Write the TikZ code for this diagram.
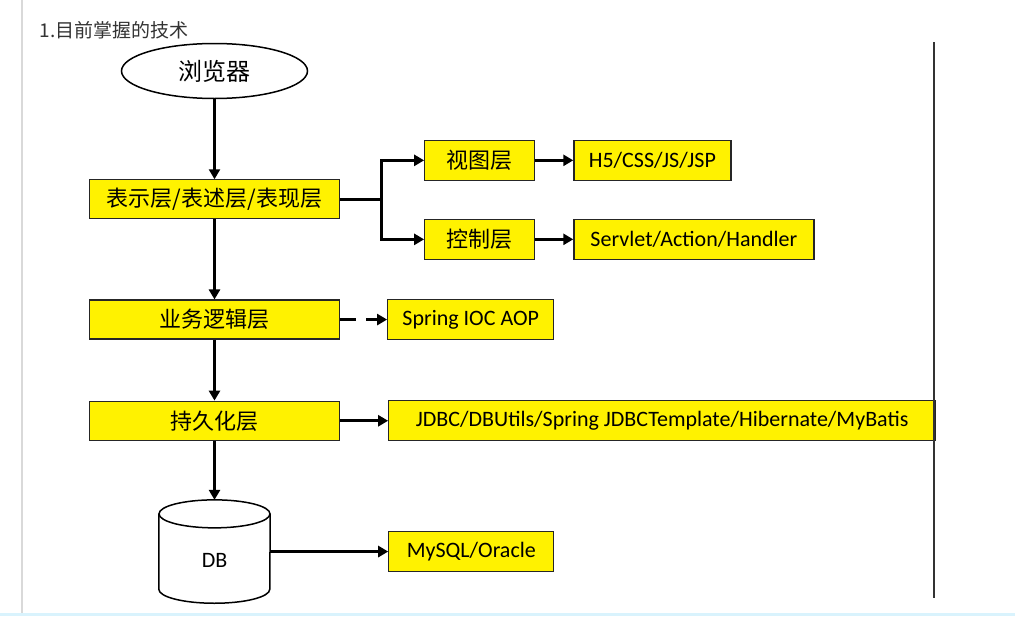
\documentclass[tikz,border=0pt]{standalone}
\usepackage{fontspec}
\setmainfont{Carlito}
\newfontfamily\cjk{Noto Sans CJK SC}
\usetikzlibrary{positioning,shapes.geometric,arrows.meta}
\tikzset{
  layer/.style={draw=black!85, line width=1.2pt, fill=yellow, minimum width=250pt, minimum height=39pt, inner sep=0pt, font=\cjk\fontsize{22}{26}\selectfont},
  sublayer/.style={layer, minimum width=110pt, minimum height=40pt},
  tech/.style={draw=black!85, line width=1.2pt, fill=yellow, minimum height=40pt, inner sep=0pt, font=\fontsize{22}{26}\selectfont},
  flow/.style={line width=3pt, -{Triangle[length=10pt,width=11pt]}},
}

\begin{document}
\begin{tikzpicture}[x=1pt,y=-1pt]
    \useasboundingbox[fill=white] (0,0) rectangle (1015,616);
    \draw[black!15, line width=2pt] (22,0) -- (22,613);
    \fill[cyan!15] (0,613) rectangle (1015,616);

    \node[anchor=west, text=black!80, font=\cjk\fontsize{19}{22}\selectfont] (title) at (36,30) {1.目前掌握的技术};
    \node[ellipse, draw, line width=1.5pt, minimum width=186pt, minimum height=55pt, inner sep=0pt, font=\cjk\fontsize{24}{28}\selectfont] (browser) at (214.5,71) {浏览器};

    \node[layer] (show) [below=80pt of browser] {表示层/表述层/表现层};
    \node[layer] (logic) [below=80pt of show] {业务逻辑层};
    \node[layer] (persist) [below=61pt of logic] {持久化层};
    \node[minimum width=111pt, minimum height=103pt, inner sep=0pt] (db) [below=59pt of persist] {};
    \node[font=\fontsize{22}{26}\selectfont] (dbtext) at ([yshift=-9pt]db.center) {DB};

    \node[sublayer] (view) [right=84pt of show, yshift=39pt] {视图层};
    \node[sublayer] (ctrl) [right=84pt of show, yshift=-40pt] {控制层};
    \node[tech, minimum width=157pt] (h5) [right=38pt of view] {H5/CSS/JS/JSP};
    \node[tech, minimum width=240pt] (servlet) [right=38pt of ctrl] {Servlet/Action/Handler};
    \node[tech, minimum width=166pt] (spring) [right=47pt of logic] {Spring IOC AOP};
    \node[tech, minimum width=547pt] (jdbc) [right=48pt of persist] {JDBC/DBUtils/Spring JDBCTemplate/Hibernate/MyBatis};
    \node[tech, minimum width=165pt] (mysql) [right=118pt of db] {MySQL/Oracle};

    % cylinder
    \draw[line width=1.5pt] ([yshift=-14pt]db.north) ellipse [x radius=55.5pt, y radius=14pt];
    \draw[line width=1.5pt] ([yshift=-14pt]db.north west) -- ([yshift=14pt]db.south west)
        arc[start angle=180, end angle=360, x radius=55.5pt, y radius=14pt] -- ([yshift=-14pt]db.north east);

    \draw[line width=1.5pt, black!80] (934,42) -- (934,598);

    \draw[flow] (browser) -- (show);
    \draw[flow] (show) -- (logic);
    \draw[flow] (logic) -- (persist);
    \draw[flow] (persist) -- (db);
    \coordinate[right=41pt of show] (fork);
    \draw[flow] (show.east) -- (fork) |- (view.west);
    \draw[flow] (fork) |- (ctrl.west);
    \draw[flow] (view) -- (h5);
    \draw[flow] (ctrl) -- (servlet);
    \draw[flow, dash pattern=on 16pt off 10pt] (logic) -- (spring);
    \draw[flow] (persist) -- (jdbc);
    \draw[flow] (db) -- (mysql);
\end{tikzpicture}
\end{document}
